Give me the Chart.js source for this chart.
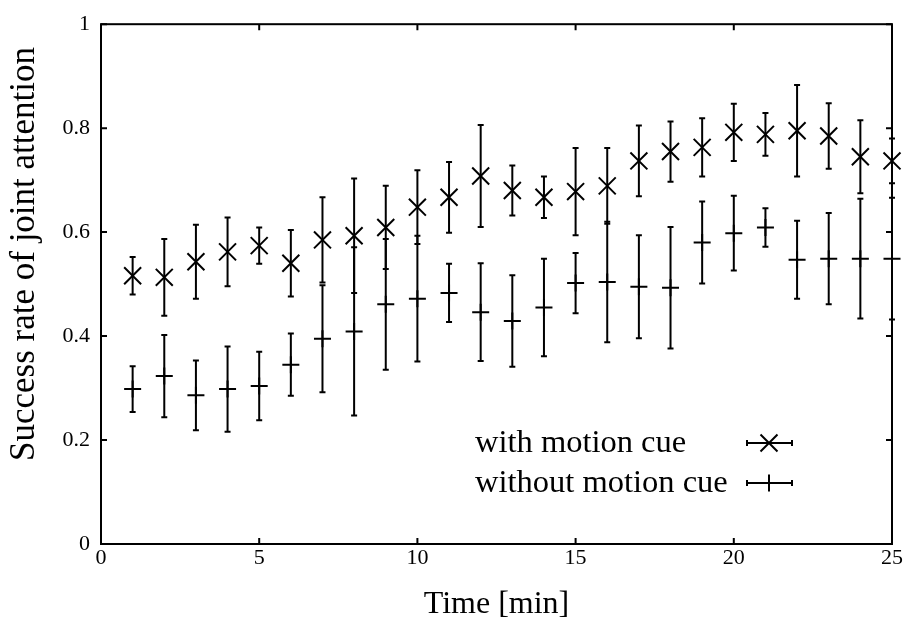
<!DOCTYPE html>
<html>
<head>
<meta charset="utf-8">
<script src="https://cdn.jsdelivr.net/npm/chart.js@4.4.1/dist/chart.umd.min.js"></script>
<style>
  html, body { margin: 0; padding: 0; background: #fff; }
  #wrap { width: 907px; height: 619px; }
</style>
</head>
<body>
<div id="wrap"><canvas id="chart" width="907" height="619"></canvas></div>
<script>
// values
const minutes = [1, 2, 3, 4, 5, 6, 7, 8, 9, 10, 11, 12, 13, 14, 15, 16, 17, 18, 19, 20, 21, 22, 23, 24, 25];
const withMean = [0.516, 0.513, 0.543, 0.562, 0.574, 0.540, 0.585, 0.593, 0.609, 0.648, 0.667, 0.708, 0.680,
                  0.667, 0.678, 0.689, 0.737, 0.755, 0.763, 0.792, 0.788, 0.795, 0.785, 0.745, 0.737];
const withErr = [0.036, 0.074, 0.071, 0.066, 0.035, 0.064, 0.082, 0.110, 0.080, 0.071, 0.068, 0.098, 0.048,
                 0.040, 0.084, 0.073, 0.068, 0.058, 0.056, 0.055, 0.041, 0.088, 0.063, 0.070, 0.043];
const withoutMean = [0.298, 0.323, 0.286, 0.298, 0.304, 0.345, 0.395, 0.409, 0.461, 0.472, 0.483, 0.446, 0.429,
                     0.455, 0.502, 0.504, 0.495, 0.493, 0.580, 0.598, 0.609, 0.547, 0.549, 0.549, 0.549];
const withoutErr = [0.044, 0.079, 0.067, 0.082, 0.066, 0.060, 0.103, 0.162, 0.126, 0.121, 0.056, 0.094, 0.088,
                    0.094, 0.058, 0.116, 0.099, 0.117, 0.079, 0.072, 0.037, 0.075, 0.088, 0.115, 0.117];
const seriesNames = ['with motion cue', 'without motion cue'];
const xTicks = [0, 5, 10, 15, 20, 25];
const yTicks = [0, 0.2, 0.4, 0.6, 0.8, 1];
const yTickLabels = ['0', '0.2', '0.4', '0.6', '0.8', '1'];
const yTitle = 'Success rate of joint attention';

const serif = 'Liberation Serif';

// vertical error bars with small caps
const errorBars = {
    id: 'errorBars',
    beforeDatasetsDraw(chart) {
        const { ctx, scales: { x, y } } = chart;
        ctx.save();
        ctx.strokeStyle = '#000';
        ctx.lineWidth = 2;
        [[withMean, withErr], [withoutMean, withoutErr]].forEach(function (pair) {
            const m = pair[0], e = pair[1];
            minutes.forEach(function (t, i) {
                const px = x.getPixelForValue(t);
                const top = y.getPixelForValue(m[i] + e[i]);
                const bot = y.getPixelForValue(m[i] - e[i]);
                ctx.beginPath();
                ctx.moveTo(px, top); ctx.lineTo(px, bot);
                ctx.moveTo(px - 3, top); ctx.lineTo(px + 3, top);
                ctx.moveTo(px - 3, bot); ctx.lineTo(px + 3, bot);
                ctx.stroke();
            });
        });
        ctx.restore();
    }
};

// box around the plot with inward ticks on every side, plus the y title
const frame = {
    id: 'frame',
    afterDraw(chart) {
        const { ctx, chartArea: a, scales: { x, y } } = chart;
        const tl = 6;
        ctx.save();
        ctx.strokeStyle = '#000';
        ctx.lineWidth = 2;
        ctx.strokeRect(a.left, a.top, a.right - a.left, a.bottom - a.top);
        ctx.beginPath();
        xTicks.forEach(function (v) {
            const px = x.getPixelForValue(v);
            ctx.moveTo(px, a.bottom); ctx.lineTo(px, a.bottom - tl);
            ctx.moveTo(px, a.top); ctx.lineTo(px, a.top + tl);
        });
        yTicks.forEach(function (v) {
            const py = y.getPixelForValue(v);
            ctx.moveTo(a.left, py); ctx.lineTo(a.left + tl, py);
            ctx.moveTo(a.right, py); ctx.lineTo(a.right - tl, py);
        });
        ctx.stroke();

        ctx.translate(25, 254);
        ctx.rotate(-Math.PI / 2);
        ctx.fillStyle = '#000';
        ctx.font = '35px "' + serif + '"';
        ctx.textAlign = 'center';
        ctx.textBaseline = 'middle';
        ctx.fillText(yTitle, 0, 0);
        ctx.restore();
    }
};

// gnuplot style key: text then a small error bar sample
const keyBox = {
    id: 'keyBox',
    afterDraw(chart) {
        const ctx = chart.ctx;
        const rows = [443, 483];
        ctx.save();
        ctx.fillStyle = '#000';
        ctx.strokeStyle = '#000';
        ctx.lineWidth = 2;
        ctx.font = '32.5px "' + serif + '"';
        ctx.textAlign = 'left';
        ctx.textBaseline = 'middle';
        rows.forEach(function (ry, i) {
            ctx.fillText(seriesNames[i], 475, ry);
            ctx.beginPath();
            ctx.moveTo(747, ry); ctx.lineTo(792, ry);
            ctx.moveTo(747, ry - 3); ctx.lineTo(747, ry + 3);
            ctx.moveTo(792, ry - 3); ctx.lineTo(792, ry + 3);
            ctx.stroke();
            const ds = chart.data.datasets[i];
            Chart.helpers.drawPoint(ctx, {
                pointStyle: ds.pointStyle, radius: ds.pointRadius, rotation: 0, borderWidth: 2
            }, 769, ry);
        });
        ctx.restore();
    }
};

const ctx = document.getElementById('chart').getContext('2d');
const chart = new Chart(ctx, {
    type: 'scatter',
    data: {
        datasets: [{
            label: seriesNames[0],
            data: minutes.map((t, i) => ({ x: t, y: withMean[i] })),
            pointStyle: 'crossRot',
            pointRadius: 12,
            pointBorderWidth: 2,
            borderColor: '#000',
            backgroundColor: '#000',
            clip: false
        }, {
            label: seriesNames[1],
            data: minutes.map((t, i) => ({ x: t, y: withoutMean[i] })),
            pointStyle: 'cross',
            pointRadius: 8.5,
            pointBorderWidth: 2,
            borderColor: '#000',
            backgroundColor: '#000',
            clip: false
        }]
    },
    options: {
        responsive: false,
        animation: false,
        devicePixelRatio: 1,
        layout: { padding: { top: 12, right: 15, left: 0, bottom: 0 } },
        plugins: {
            legend: { display: false },
            tooltip: { enabled: false }
        },
        scales: {
            x: {
                type: 'linear',
                min: 0,
                max: 25,
                afterBuildTicks: function (s) { s.ticks = xTicks.map(v => ({ value: v })); },
                afterFit: function (s) { s.height = 75; },
                grid: { display: false, drawTicks: false, tickLength: 0 },
                border: { display: false },
                ticks: {
                    autoSkip: false,
                    maxRotation: 0,
                    padding: 1,
                    color: '#000',
                    font: { family: serif, size: 22 }
                },
                title: {
                    display: true,
                    text: 'Time [min]',
                    color: '#000',
                    font: { family: serif, size: 32, lineHeight: 0.75 },
                    padding: { top: 0, bottom: 2 }
                }
            },
            y: {
                min: 0,
                max: 1,
                afterBuildTicks: function (s) { s.ticks = yTicks.map(v => ({ value: v })); },
                afterFit: function (s) { s.width = 101; },
                grid: { display: false, drawTicks: false, tickLength: 0 },
                border: { display: false },
                ticks: {
                    padding: 11,
                    color: '#000',
                    font: { family: serif, size: 22 },
                    callback: function (value, index) { return yTickLabels[index]; }
                }
            }
        }
    },
    plugins: [errorBars, frame, keyBox]
});
</script>
</body>
</html>
